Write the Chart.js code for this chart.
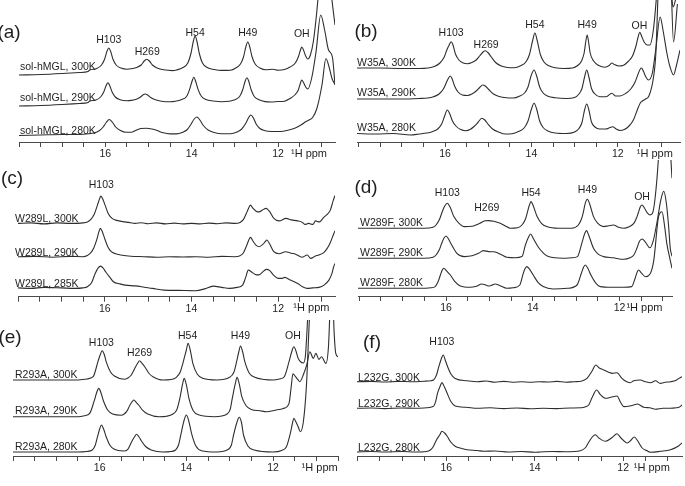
<!DOCTYPE html>
<html>
<head>
<meta charset="utf-8">
<script src="https://cdn.jsdelivr.net/npm/chart.js@4.4.1/dist/chart.umd.min.js"></script>
<style>
  html, body { margin: 0; padding: 0; background: #fff; }
  #fig { position: relative; width: 685px; height: 486px; overflow: hidden; }
  #fig canvas { position: absolute; }
</style>
</head>
<body>
<div id="fig"></div>
<script>
// spectra: [ppm, intensity above the trace baseline]
const a300 = [[18.0,-4],[17.5,-3.5],[17.0,-2.5],[16.6,-1.5],[16.4,-0.5],[16.37,0.8],[16.2,2.5],[16.09,6],[16.02,11.5],[15.96,20],[15.92,23],[15.88,20],[15.82,11.5],[15.75,6],[15.64,3],[15.5,1.8],[15.4,2.2],[15.28,3.5],[15.17,6],[15.1,10],[15.04,11.7],[14.98,10],[14.91,6],[14.8,3],[14.65,1.2],[14.45,0.4],[14.35,1],[14.2,3.5],[14.09,8],[14.02,17],[13.96,30],[13.92,35],[13.88,30],[13.82,17],[13.75,8],[13.64,3.5],[13.48,1.5],[13.3,0.6],[13.1,0.8],[12.98,3],[12.87,7],[12.8,14],[12.74,25],[12.70,29],[12.66,25],[12.6,14],[12.53,7],[12.42,3],[12.28,1.2],[12.12,1.8],[12.0,0.8],[11.85,1.5],[11.72,4],[11.6,8],[11.53,14],[11.48,21],[11.45,24],[11.41,21],[11.36,15],[11.31,12],[11.25,16],[11.18,30],[11.1,60],[11.0,110],[10.9,140],[10.8,95],[10.76,75],[10.68,46]];
const a290 = [[18.0,-4],[17.5,-3.5],[17.0,-2.5],[16.6,-1.5],[16.4,-0.5],[16.37,0.7],[16.22,2],[16.11,5],[16.04,9.7],[15.98,16.5],[15.94,19.3],[15.9,16.5],[15.84,9.7],[15.77,5],[15.66,2.3],[15.5,1.2],[15.4,1.6],[15.3,2.6],[15.2,4.5],[15.13,7],[15.08,8],[15.02,7],[14.95,4.5],[14.84,2.2],[14.7,0.8],[14.5,0.2],[14.38,0.7],[14.23,2.5],[14.12,5.5],[14.05,12.4],[13.99,21],[13.95,24.7],[13.91,21],[13.85,12.4],[13.78,6],[13.67,2.5],[13.5,1],[13.3,0.3],[13.0,2.2],[12.89,5.5],[12.82,12],[12.76,21],[12.72,24.3],[12.68,21],[12.62,12],[12.55,5.5],[12.44,2.2],[12.3,0.4],[12.15,0],[12.0,0.5],[11.85,0.8],[11.72,3.5],[11.6,7.5],[11.53,12],[11.48,19],[11.45,22],[11.41,19.5],[11.36,15],[11.31,13],[11.22,24],[11.12,50],[11.01,87],[10.92,72],[10.83,52],[10.74,45],[10.68,17]];
const a280 = [[18.0,-1],[17.5,-0.5],[17.0,0],[16.5,0.3],[16.3,1.2],[16.15,3.5],[16.05,7.5],[15.98,12],[15.91,15],[15.84,12.5],[15.76,7.5],[15.65,4],[15.52,2.2],[15.4,2.2],[15.3,4],[15.18,6],[15.05,6.3],[14.92,5.5],[14.8,4],[14.68,2],[14.5,0.6],[14.35,0.6],[14.22,2],[14.1,5],[14.02,10],[13.95,15],[13.88,17.5],[13.81,14.5],[13.73,9],[13.62,4.5],[13.48,2],[13.3,0.8],[13.1,0.8],[12.95,2.5],[12.84,5.5],[12.75,11],[12.68,17],[12.63,19.5],[12.57,16.5],[12.5,10],[12.42,6],[12.3,3.8],[12.15,3],[11.95,3],[11.75,4.5],[11.6,6.5],[11.45,10],[11.35,13],[11.28,14.5],[11.2,17],[11.1,26],[10.98,50],[10.89,76],[10.82,68],[10.75,56],[10.68,50]];

const b300 = [[18.04,1],[17.5,1],[17.0,0.5],[16.6,0.5],[16.4,1],[16.25,2.5],[16.12,6],[16.02,12],[15.96,19],[15.9,24.5],[15.86,27.3],[15.82,24.5],[15.76,15],[15.68,9],[15.58,6],[15.48,5.3],[15.38,6.5],[15.28,9],[15.2,13],[15.12,17],[15.07,18.3],[15.01,16.5],[14.93,12],[14.83,6.5],[14.7,3],[14.55,1.5],[14.4,1.2],[14.25,3.2],[14.13,7],[14.05,14],[13.97,29],[13.92,36],[13.87,29],[13.79,14],[13.71,7],[13.6,3.2],[13.45,1.2],[13.25,0.5],[13.05,1],[12.93,3.5],[12.84,8],[12.78,16],[12.74,28],[12.71,34],[12.68,28],[12.64,16],[12.56,8],[12.44,3.5],[12.3,1.8],[12.2,3.5],[12.14,6],[12.08,4.5],[11.98,3],[11.88,3.5],[11.76,7.5],[11.66,13],[11.58,23],[11.53,32],[11.49,36.7],[11.45,33],[11.39,27],[11.32,24],[11.26,24],[11.18,38],[11.1,75],[11.0,140],[10.9,160],[10.82,100],[10.76,75],[10.72,62],[10.66,70],[10.6,85]];
const b290 = [[18.04,0],[17.0,0],[16.6,0.5],[16.4,1],[16.27,2.2],[16.14,5],[16.04,10],[15.97,16.5],[15.92,21],[15.88,23],[15.84,20.5],[15.78,13],[15.7,7],[15.6,4],[15.48,3.5],[15.38,5],[15.28,8],[15.2,11.5],[15.13,14],[15.07,13],[14.99,9.5],[14.88,5],[14.75,2.5],[14.58,1.2],[14.42,1],[14.28,2.8],[14.16,6],[14.08,12],[14.01,23],[13.94,29],[13.88,23],[13.81,12],[13.73,6],[13.62,2.8],[13.45,1.2],[13.2,0.5],[13.0,1.5],[12.9,5],[12.83,10.5],[12.77,22],[12.72,29],[12.67,22],[12.61,10.5],[12.53,5],[12.42,2.3],[12.28,2.2],[12.14,5.7],[12.05,3],[11.95,3],[11.82,5.5],[11.7,10],[11.6,17],[11.53,25],[11.48,30],[11.45,31],[11.41,28],[11.35,22],[11.29,19],[11.2,26],[11.12,50],[11.02,82],[10.95,68],[10.86,45],[10.79,32],[10.71,24],[10.64,34],[10.56,49]];
const b280 = [[18.04,0.5],[17.6,0],[17.2,0.5],[16.8,-1],[16.6,0],[16.42,1],[16.3,2.3],[16.17,5],[16.08,10],[16.01,18],[15.95,24],[15.9,21],[15.83,13],[15.75,8],[15.64,4.5],[15.52,3.3],[15.42,4.5],[15.33,7.5],[15.24,11.5],[15.15,15.7],[15.08,14],[15.0,9.5],[14.9,5],[14.76,2],[14.6,0],[14.45,0.3],[14.3,2.5],[14.17,6],[14.08,13],[14.0,25],[13.94,30.7],[13.88,25],[13.81,13],[13.73,6.5],[13.62,3],[13.45,1],[13.2,0.5],[13.0,2],[12.9,5.5],[12.83,11.5],[12.77,24],[12.72,30],[12.67,24],[12.61,12],[12.53,7],[12.42,5],[12.28,5],[12.18,6.5],[12.12,7.3],[12.04,5],[11.95,3.5],[11.85,4.5],[11.74,8],[11.64,14],[11.55,24],[11.48,31],[11.43,33],[11.36,35],[11.28,38],[11.18,55],[11.12,80],[11.05,160],[10.9,250],[10.78,170],[10.71,92],[10.62,130]];

const c300 = [[18.0,0],[17.7,0.5],[17.4,-0.5],[17.1,0.5],[16.8,0],[16.5,0.5],[16.4,1.5],[16.32,4],[16.24,9.5],[16.17,18],[16.12,24.5],[16.09,27.3],[16.05,25],[15.99,18],[15.92,10],[15.83,5],[15.72,3],[15.58,1.8],[15.45,1],[15.3,0],[15.15,0.7],[15.0,-0.3],[14.8,0.5],[14.6,-0.5],[14.4,0.3],[14.2,-0.5],[14.0,0],[13.8,-0.5],[13.6,0.3],[13.4,-0.3],[13.2,0.5],[13.0,0],[12.88,1],[12.8,4],[12.72,11.5],[12.67,16.5],[12.64,18.3],[12.58,15],[12.5,12],[12.44,11.5],[12.36,13.5],[12.28,15],[12.2,12],[12.1,5],[11.98,2.5],[11.82,5],[11.7,3.5],[11.55,2.5],[11.44,1],[11.38,-1],[11.3,0],[11.2,-1],[11.14,2.5],[11.05,1.5],[10.95,6],[10.87,9],[10.8,13],[10.73,23],[10.69,28]];
const c290 = [[18.0,0],[17.6,0.3],[17.2,-0.5],[16.8,0.3],[16.5,0],[16.4,1.2],[16.32,4],[16.25,9],[16.18,17.5],[16.14,24],[16.1,28.3],[16.06,25.5],[16.0,18],[15.93,10],[15.85,5],[15.75,3],[15.6,1.5],[15.4,0.5],[15.1,0],[14.8,-0.5],[14.5,0],[14.2,-0.3],[13.9,0],[13.6,-0.5],[13.3,0.3],[13.0,0],[12.88,1],[12.8,4],[12.72,12],[12.67,17.5],[12.64,19.3],[12.58,15.5],[12.5,11],[12.44,10],[12.36,12],[12.3,15],[12.26,16.7],[12.2,13],[12.1,5],[11.98,3],[11.83,5],[11.7,3.5],[11.6,2.5],[11.45,-0.5],[11.33,1.7],[11.25,-1.7],[11.15,0.5],[11.06,1.7],[10.95,4],[10.87,8.3],[10.8,14],[10.73,21.7],[10.69,26]];
const c285 = [[18.0,0.5],[17.7,0],[17.4,1],[17.0,0.5],[16.7,0],[16.5,0.5],[16.4,1.7],[16.3,6],[16.22,15],[16.15,20.5],[16.1,22.3],[16.04,20.5],[15.98,16.7],[15.88,11],[15.8,6.7],[15.65,4.5],[15.53,3.3],[15.3,2.5],[15.15,1.7],[14.9,0],[14.63,-1.7],[14.3,-2],[13.9,-2.3],[13.7,-0.5],[13.5,2.3],[13.3,1],[13.12,0],[12.95,1],[12.82,3.3],[12.75,11],[12.69,18.3],[12.6,16],[12.5,13.5],[12.42,14],[12.33,17.5],[12.27,19],[12.2,18],[12.1,13],[12.0,10],[11.92,10],[11.85,11],[11.72,8.3],[11.55,5],[11.45,2],[11.33,0],[11.2,0.5],[11.06,1],[10.95,3],[10.83,8.3],[10.76,15],[10.72,21.7],[10.69,25]];

const d300 = [[18.03,0],[17.5,0],[17.0,0],[16.5,0],[16.3,1],[16.23,3.3],[16.15,9],[16.1,15],[16.04,21.5],[15.97,25],[15.91,21.5],[15.82,11.7],[15.7,5],[15.58,1.7],[15.4,2],[15.3,3.5],[15.22,5],[15.1,7.5],[15.02,7.7],[14.9,7],[14.75,5],[14.62,2],[14.52,0],[14.35,0.5],[14.25,3.3],[14.17,9],[14.13,15],[14.08,23],[14.04,26.7],[13.99,22.5],[13.9,11.7],[13.8,5],[13.68,1.7],[13.4,0],[13.1,0],[12.95,3.3],[12.88,9],[12.84,15],[12.79,25],[12.74,29],[12.69,24.5],[12.6,11.7],[12.5,5],[12.37,1.7],[12.25,2.5],[12.14,3.3],[12.02,1],[11.9,0],[11.78,1.5],[11.67,5],[11.61,10],[11.57,15],[11.52,21.5],[11.48,23.3],[11.43,20.5],[11.36,15.5],[11.3,13.3],[11.24,15],[11.18,30],[11.1,72],[11.0,160],[10.9,140],[10.83,80],[10.79,50]];
const d290 = [[18.03,0],[17.5,0],[17.0,0],[16.5,0],[16.3,1],[16.23,3.3],[16.15,9],[16.1,15],[16.05,20],[16.0,22.3],[15.94,19],[15.87,13.3],[15.75,5],[15.58,1.7],[15.4,2.5],[15.25,5],[15.14,7.7],[15.02,6.7],[14.9,6.5],[14.83,5.7],[14.7,3],[14.6,1],[14.4,0.5],[14.25,1.7],[14.17,13.3],[14.1,21],[14.05,24.3],[13.99,20],[13.87,11],[13.75,5],[13.64,1.7],[13.3,0],[13.1,0.5],[12.97,1.7],[12.87,15],[12.8,25],[12.76,27.7],[12.71,23],[12.6,10],[12.5,4.5],[12.37,1.7],[12.15,0.5],[11.9,-1],[11.76,0.5],[11.67,3.3],[11.6,10],[11.54,17],[11.48,19.3],[11.4,16],[11.3,10.5],[11.22,18],[11.12,40],[11.05,58],[10.98,67],[10.92,55],[10.87,33],[10.83,10],[10.79,2]];
const d280 = [[18.03,0],[17.5,0],[17.0,0],[16.6,0],[16.35,0.5],[16.25,1.7],[16.18,7],[16.13,13.3],[16.09,18],[16.05,20],[15.99,17.5],[15.9,13.3],[15.8,7],[15.67,2.3],[15.45,1],[15.3,2],[15.18,4.3],[15.1,3.5],[15.02,2.3],[14.95,3],[14.87,4.3],[14.75,2.5],[14.6,0],[14.45,0.5],[14.3,3.3],[14.22,15],[14.18,19.5],[14.14,21.7],[14.08,19.5],[13.99,13.3],[13.88,6],[13.76,1.7],[13.53,-0.7],[13.2,0],[12.98,3.3],[12.88,15],[12.83,21],[12.79,23.3],[12.73,20],[12.66,13.3],[12.56,6],[12.44,1.7],[12.2,1],[11.9,1],[11.72,1.7],[11.64,10],[11.59,16.5],[11.56,18.3],[11.5,15.5],[11.4,11.6],[11.3,14],[11.21,28],[11.1,71.6],[11.02,76.6],[10.96,62],[10.91,45],[10.83,28],[10.79,20]];

const e300 = [[18.0,0],[17.0,0],[16.5,0],[16.3,1],[16.15,3.3],[16.04,18.3],[15.99,25],[15.94,29.3],[15.89,25],[15.85,18.3],[15.75,8],[15.66,4],[15.43,0.7],[15.35,2],[15.27,5],[15.17,13.3],[15.12,17],[15.08,19.3],[15.03,17],[14.96,13.3],[14.86,6.5],[14.77,3.3],[14.54,0],[14.35,0.5],[14.23,2.7],[14.14,8],[14.08,16.7],[14.0,30],[13.96,36.7],[13.91,30],[13.85,16.7],[13.75,6],[13.62,1.7],[13.3,0],[13.0,2.7],[12.9,8],[12.84,18.3],[12.79,28],[12.75,34],[12.7,28],[12.65,18.3],[12.55,7],[12.42,2.7],[12.2,0.5],[12.0,0],[11.85,1],[11.74,3.3],[11.63,18.3],[11.57,28],[11.52,33.3],[11.47,29],[11.42,21.7],[11.3,17],[11.25,25],[11.2,62],[11.12,130],[10.9,200],[10.7,200],[10.5,200]];
const e290 = [[18.0,0],[17.0,0],[16.5,0],[16.35,1],[16.23,3.3],[16.12,16.7],[16.07,24],[16.02,28.3],[15.97,24],[15.92,16.7],[15.82,7],[15.7,2.7],[15.5,1.5],[15.38,5],[15.3,11.7],[15.25,15],[15.21,16.7],[15.16,14.5],[15.1,11.7],[15.0,6],[14.89,2.7],[14.63,0],[14.45,0.5],[14.31,2.7],[14.22,7],[14.15,18.3],[14.09,32],[14.05,38.3],[14.0,32],[13.94,18.3],[13.84,6],[13.7,1.7],[13.35,0],[13.06,2.7],[12.99,7],[12.94,18.3],[12.87,33],[12.83,39.3],[12.78,33],[12.72,20],[12.62,11],[12.5,7.3],[12.3,6],[12.15,5],[11.95,6.5],[11.76,8.3],[11.63,13.3],[11.58,30],[11.54,43],[11.48,40],[11.43,37.3],[11.38,35],[11.3,42],[11.22,52],[11.15,65],[11.07,58.3],[11.01,63.3],[10.94,57.3],[10.88,60],[10.78,53.3],[10.72,70],[10.68,110],[10.63,130],[10.59,85],[10.55,63],[10.5,60]];
const e280 = [[18.0,0],[17.0,0],[16.5,0],[16.3,0.5],[16.17,2],[16.1,7],[16.05,15.3],[16.0,23],[15.96,27],[15.91,23],[15.85,15.3],[15.76,6.5],[15.66,2.7],[15.45,1],[15.35,2.7],[15.25,11.3],[15.19,15.5],[15.15,17.7],[15.1,15.5],[15.04,11.3],[14.94,5.5],[14.81,2],[14.54,0],[14.35,0.5],[14.25,2],[14.18,7],[14.12,18.7],[14.05,32],[14.0,37],[13.95,32],[13.88,18.7],[13.78,6],[13.65,1.3],[13.3,0],[13.03,2.7],[12.96,7],[12.91,17],[12.83,30],[12.78,34.7],[12.73,30],[12.68,17],[12.58,6],[12.43,2],[12.0,0],[11.8,1.5],[11.69,5.3],[11.6,18.7],[11.55,29],[11.52,33.7],[11.47,30],[11.42,25.3],[11.37,20.3],[11.3,30],[11.23,65],[11.15,140],[10.9,220],[10.7,200],[10.5,180]];

const f300 = [[18.02,0],[17.7,0.3],[17.4,-0.3],[17.1,0.3],[16.8,0],[16.5,0.5],[16.35,1],[16.29,1.7],[16.22,7],[16.17,15],[16.12,22],[16.07,26.7],[16.02,21],[15.97,15],[15.9,8],[15.8,3.3],[15.53,1],[15.3,0],[15.1,0.7],[14.9,-0.5],[14.7,0.3],[14.5,-0.5],[14.3,0],[14.1,-0.5],[13.9,0],[13.7,-0.3],[13.5,0.3],[13.3,-0.5],[13.1,0],[12.95,0.5],[12.82,3.3],[12.7,11],[12.62,16.7],[12.55,14],[12.44,11.7],[12.33,9.5],[12.25,8.3],[12.14,9],[12.03,3.3],[11.92,0],[11.84,-1],[11.76,1],[11.61,1.7],[11.5,0],[11.38,-1],[11.27,1],[11.16,-1.7],[11.05,-0.5],[10.93,0],[10.8,1.5],[10.74,3.3],[10.67,5]];
const f290 = [[18.02,0],[17.7,0.3],[17.4,-0.3],[17.0,0.3],[16.7,0],[16.45,0.5],[16.3,1.7],[16.24,7],[16.2,15],[16.14,22],[16.1,25.7],[16.04,21],[15.98,15],[15.9,7],[15.8,2.3],[15.55,1],[15.3,0],[15.0,0.5],[14.7,-0.3],[14.4,0.3],[14.1,-0.5],[13.8,0],[13.5,-0.3],[13.2,0.3],[12.95,0.5],[12.85,1.5],[12.78,3.3],[12.7,11],[12.6,18.3],[12.52,14],[12.4,10],[12.28,11],[12.14,12.3],[12.06,6],[11.99,1.7],[11.85,2.3],[11.76,3.3],[11.68,4.3],[11.53,1],[11.4,0.5],[11.27,-1],[11.1,0],[10.93,0],[10.8,0.5],[10.74,1],[10.67,3.3]];
const f280 = [[18.02,0],[17.7,0.5],[17.4,0],[17.0,0.5],[16.7,0],[16.45,0.5],[16.37,1.7],[16.3,5],[16.22,12.3],[16.15,17],[16.1,20.7],[16.04,19],[15.98,15.7],[15.9,10],[15.8,5.7],[15.65,3.5],[15.53,2.3],[15.3,1.5],[15.15,0.7],[14.9,1],[14.6,0],[14.3,0.5],[14.0,-0.3],[13.87,0],[13.6,0.5],[13.3,0.3],[12.97,1.3],[12.85,4.5],[12.79,9],[12.7,15],[12.63,17.3],[12.55,14],[12.4,10.7],[12.25,14.5],[12.14,18.3],[12.05,14],[11.91,9],[11.82,12],[11.75,15],[11.67,11],[11.57,4],[11.45,1],[11.38,-0.3],[11.16,0.7],[10.93,2.3],[10.74,6.3],[10.67,9]];

// trace names and peak assignments
const namesA = ['sol-hMGL, 300K', 'sol-hMGL, 290K', 'sol-hMGL, 280K'];
const namesB = ['W35A, 300K', 'W35A, 290K', 'W35A, 280K'];
const namesC = ['W289L, 300K', 'W289L, 290K', 'W289L, 285K'];
const namesD = ['W289F, 300K', 'W289F, 290K', 'W289F, 280K'];
const namesE = ['R293A, 300K', 'R293A, 290K', 'R293A, 280K'];
const namesF = ['L232G, 300K', 'L232G, 290K', 'L232G, 280K'];

const peakLabels = ['H103', 'H269', 'H54', 'H49', 'OH'];
const peaksA = [15.92, 15.03, 13.92, 12.70, 11.45];
const peaksB = [15.86, 15.05, 13.92, 12.71, 11.50];
const peaksC = [16.08];
const peaksD = [15.97, 15.06, 14.04, 12.74, 11.48];
const peaksE = [15.96, 15.08, 13.97, 12.75, 11.54];
const peaksF = [16.1];

const tickLabels = [16, 14, 12];

const FONT = '"Liberation Sans", Arial, sans-serif';
const INK = '#1e1e1e';

// layout of each panel (canvas box, axis line, trace stacking, label spots)
const panels = [
  { letter: '(a)', box: [0, 0, 342, 160], axisY: 142, pad: [19, 7], range: [10.68, 18.0],
    traces: [a300, a290, a280], offsets: [71, 40, 7.5], names: namesA, nameX: 20, nameGap: 1,
    peaks: peaksA, peakY: [102, 89.7, 108.7, 108.7, 107.7], letterAt: [9, 33], unitAt: 11.70 },
  { letter: '(b)', box: [342, 0, 343, 160], axisY: 142, pad: [15, 5], range: [10.56, 18.04],
    traces: [b300, b290, b280], offsets: [73, 43, 8], names: namesB, nameX: 15, nameGap: 3,
    peaks: peaksB, peakY: [108.7, 97, 117, 117, 116], letterAt: [24, 32], unitAt: 11.56 },
  { letter: '(c)', box: [0, 160, 342, 160], axisY: 136.7, pad: [18, 7], range: [10.69, 18.0],
    traces: [c300, c290, c285], offsets: [73.3, 40, 8.3], names: namesC, nameX: 15, nameGap: 1,
    peaks: peaksC, peakY: [111.7], letterAt: [12, 19], unitAt: 11.65 },
  { letter: '(d)', box: [342, 160, 343, 160], axisY: 136, pad: [16, 13], range: [10.79, 18.03],
    traces: [d300, d290, d280], offsets: [67.7, 37.7, 7.7], names: namesD, nameX: 18, nameGap: 2,
    peaks: peaksD, peakY: [102.7, 87.7, 102.7, 106, 99.3], letterAt: [24, 28], unitAt: 11.84 },
  { letter: '(e)', box: [0, 320, 342, 166], axisY: 136, pad: [13, 4], range: [10.5, 18.0],
    traces: [e300, e290, e280], offsets: [76, 39.3, 4], names: namesE, nameX: 15, nameGap: 2.5,
    peaks: peaksE, peakY: [113.3, 103.3, 120, 120, 120], letterAt: [10, 18], unitAt: 11.34 },
  { letter: '(f)', box: [342, 320, 343, 166], axisY: 136, pad: [15, 3], range: [10.67, 18.02],
    traces: [f300, f290, f280], offsets: [74.3, 47.7, 4], names: namesF, nameX: 16, nameGap: 1,
    peaks: peaksF, peakY: [114.3], letterAt: [30, 23], unitAt: 11.76 }
];

// labels: panel letter, trace names, peak names, unit
const spectrumText = {
  id: 'spectrumText',
  afterDraw(chart, args, opts) {
    const p = opts.panel;
    const { ctx, scales: { x, y } } = chart;
    ctx.save();
    ctx.fillStyle = INK;

    ctx.font = '19px ' + FONT;
    ctx.textAlign = 'center';
    ctx.textBaseline = 'middle';
    ctx.fillText(p.letter, p.letterAt[0], p.letterAt[1]);

    ctx.font = '10.5px ' + FONT;
    ctx.textAlign = 'left';
    ctx.textBaseline = 'alphabetic';
    p.names.forEach((name, i) => {
      ctx.fillText(name, p.nameX, y.getPixelForValue(p.offsets[i] + p.nameGap));
    });

    ctx.textAlign = 'center';
    ctx.textBaseline = 'middle';
    p.peaks.forEach((ppm, i) => {
      ctx.fillText(peakLabels[i], x.getPixelForValue(ppm), y.getPixelForValue(p.peakY[i]));
    });

    ctx.font = '11px ' + FONT;
    ctx.textAlign = 'left';
    ctx.textBaseline = 'top';
    ctx.fillText('\u00B9H ppm', x.getPixelForValue(p.unitAt), x.top + 6);
    ctx.restore();
  }
};

const fig = document.getElementById('fig');

panels.forEach(p => {
  const [left, top, w, h] = p.box;
  const canvas = document.createElement('canvas');
  canvas.width = w;
  canvas.height = h;
  canvas.style.left = left + 'px';
  canvas.style.top = top + 'px';
  fig.appendChild(canvas);

  const datasets = p.traces.map((trace, i) => ({
    data: trace.map(([ppm, v]) => ({ x: ppm, y: v + p.offsets[i] })),
    borderColor: '#2e2e2e',
    borderWidth: 1.1,
    pointRadius: 0,
    fill: false,
    cubicInterpolationMode: 'monotone'
  }));

  new Chart(canvas, {
    type: 'line',
    data: { datasets },
    options: {
      responsive: false,
      animation: false,
      devicePixelRatio: 1,
      events: [],
      layout: { padding: { left: p.pad[0], right: p.pad[1], top: 0, bottom: 0 } },
      plugins: {
        legend: { display: false },
        tooltip: { enabled: false },
        spectrumText: { panel: p }
      },
      scales: {
        x: {
          type: 'linear',
          reverse: true,
          min: p.range[0],
          max: p.range[1],
          afterFit: scale => { scale.height = h - p.axisY; },
          border: { display: true, color: '#4a4a4a', width: 1 },
          grid: { drawOnChartArea: false, color: '#4a4a4a', tickLength: 5 },
          ticks: {
            stepSize: 0.5,
            includeBounds: false,
            autoSkip: false,
            maxRotation: 0,
            padding: 1,
            color: INK,
            font: { family: FONT, size: 10.5 },
            callback: v => tickLabels.includes(v) ? String(v) : ''
          }
        },
        y: { display: false, min: 0, max: p.axisY }
      }
    },
    plugins: [spectrumText]
  });
});
</script>
</body>
</html>
